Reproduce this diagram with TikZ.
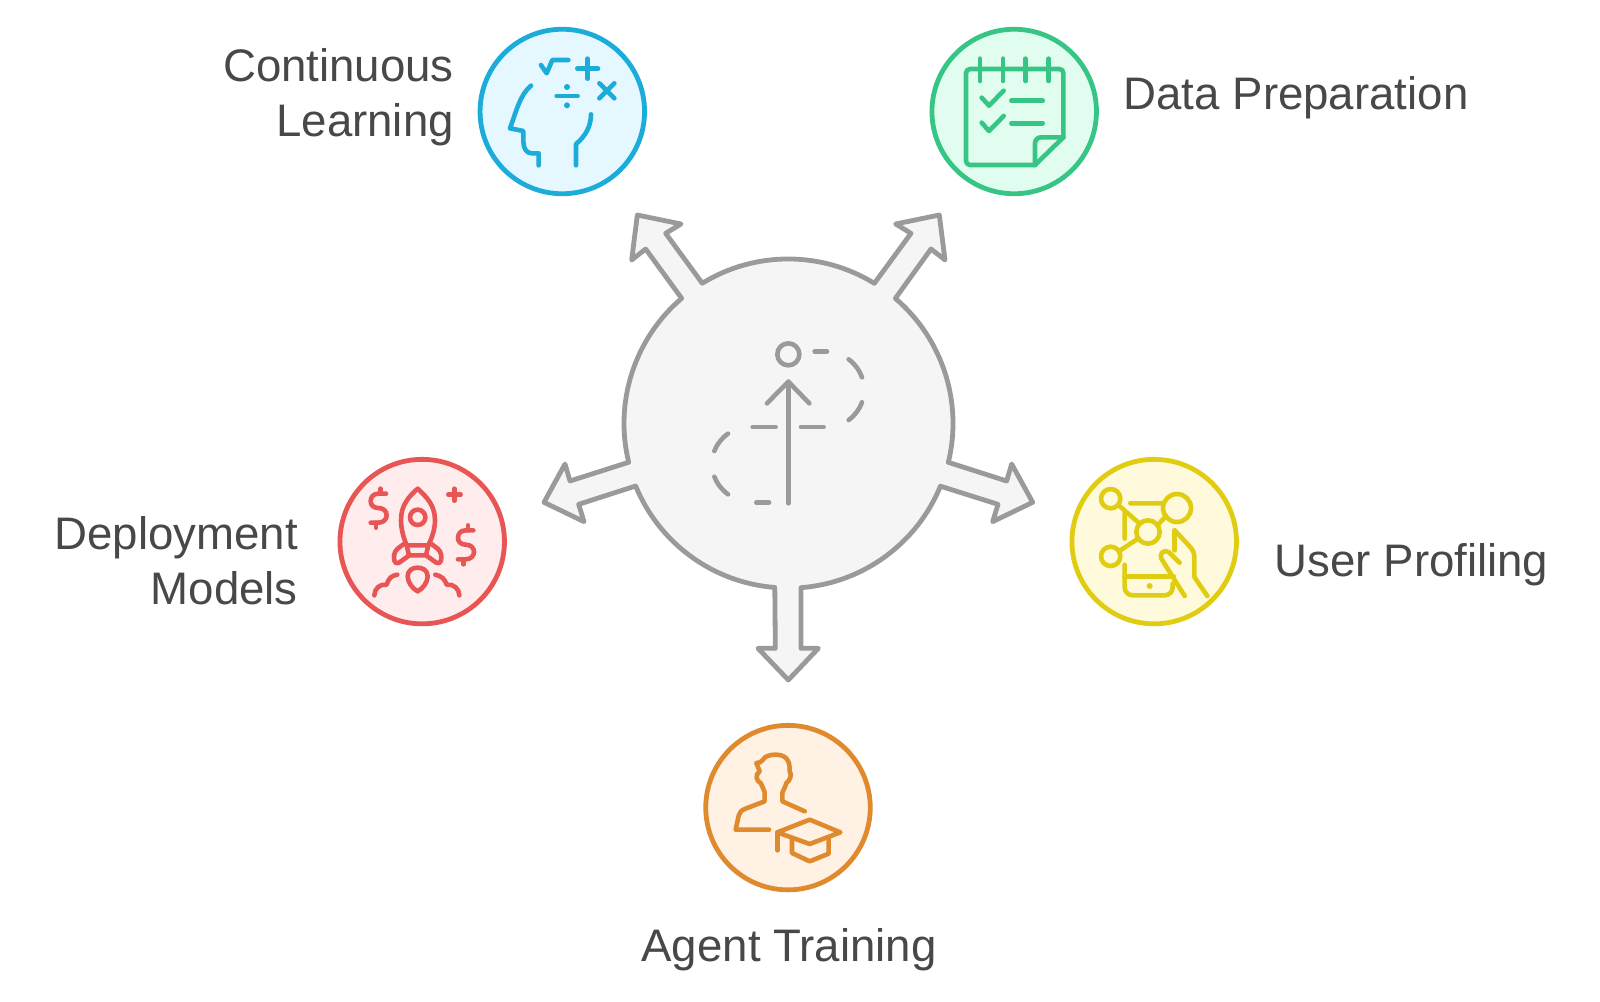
\documentclass[tikz,border=0pt]{standalone}
\usepackage{fontspec}
\setmainfont{Liberation Sans}
\definecolor{txt}{HTML}{484848}
\definecolor{gs}{HTML}{9A9A9A}\definecolor{gf}{HTML}{F5F5F5}
\definecolor{bs}{HTML}{1BACD9}\definecolor{bf}{HTML}{E6F8FF}
\definecolor{ns}{HTML}{37C585}\definecolor{nf}{HTML}{E1FDF0}
\definecolor{rs}{HTML}{E85555}\definecolor{rf}{HTML}{FFECEC}
\definecolor{ys}{HTML}{E0CC10}\definecolor{yf}{HTML}{FFFADB}
\definecolor{os}{HTML}{E08A2E}\definecolor{of}{HTML}{FFF1E4}
\tikzset{
  disc/.style={circle,draw=#1,line width=4.8pt,minimum size=164.5pt,inner sep=0pt},
  ico/.style={line width=4.6pt,line cap=round,line join=round},
  lab/.style={text=txt,font=\fontsize{45.6}{55}\selectfont,inner sep=0pt},
}
\begin{document}
\begin{tikzpicture}[x=1pt,y=1pt,yscale=-1]
\useasboundingbox (0,0) rectangle (1600,1001);
\fill[white] (0,0) rectangle (1600,1001);

% central hub with five outgoing arrows
\begin{scope}[shift={(520,200)},scale=0.33333]
\path[fill=gf,draw=gs,line width=4.8pt,line join=round]
 (547,250) -- (437,100) -- (483,72) -- (352,45) -- (335,180) -- (377,147) -- (485,295)
 arc[start angle=229.53,end angle=166.3,radius=493]
 -- (150,843) -- (135,792) -- (72,907) -- (192,965) -- (176,913) -- (347,858)
 arc[start angle=157.7,end angle=94.5,radius=493]
 -- (766,1345) -- (714,1345) -- (805,1440) -- (895,1345) -- (843,1345) -- (843,1163)
 arc[start angle=85.6,end angle=22.3,radius=493]
 -- (1434,913) -- (1418,965) -- (1538,907) -- (1475,792) -- (1460,843) -- (1285,787)
 arc[start angle=13.7,end angle=-49.53,radius=493]
 -- (1233,147) -- (1275,180) -- (1258,45) -- (1127,72) -- (1173,100) -- (1063,250)
 arc[start angle=-58.4,end angle=-121.6,radius=493] -- cycle;
\draw[ico,draw=gs] (805,463) circle[radius=33];
\draw[ico,draw=gs] (805,545) -- (805,910);
\draw[ico,draw=gs] (741,610) -- (805,545) -- (868,610);
\draw[ico,draw=gs] (698,681) -- (767,681) (843,681) -- (911,681) (884,454) -- (921,454) (709,908) -- (747,908);
\draw[ico,draw=gs] (986,478) .. controls (1005,492) and (1018,510) .. (1026,532);
\draw[ico,draw=gs] (1026,607) .. controls (1018,628) and (1005,646) .. (986,660);
\draw[ico,draw=gs] (624,701) .. controls (605,715) and (591,732) .. (583,753);
\draw[ico,draw=gs] (583,830) .. controls (591,851) and (605,869) .. (624,883);
\end{scope}

% discs
\node[disc=bs,fill=bf] (learn) at (562.3,111.5) {};
\node[disc=ns,fill=nf] (data) at (1014.2,111.5) {};
\node[disc=rs,fill=rf] (deploy) at (422.2,541.6) {};
\node[disc=ys,fill=yf] (user) at (1154.2,541.6) {};
\node[disc=os,fill=of] (agent) at (788,807.6) {};

% head icon
\begin{scope}[shift={(460,20)},scale=0.33333,ico,draw=bs]
\draw (243,135) -- (260,160) -- (277,120) -- (325,120);
\draw (352,146) -- (414,146) (383,116) -- (383,176);
\draw (418,235) -- (463,190) (418,190) -- (463,235);
\draw (290,228) -- (353,228);
\fill[bs] (321,201) circle[radius=9] (321,256) circle[radius=9];
\draw (213,197) .. controls (180,225) and (170,270) .. (150,325) -- (190,333) -- (190,365) .. controls (190,385) and (200,400) .. (215,400) -- (236,400) -- (236,436);
\draw (393,283) .. controls (393,320) and (375,350) .. (348,372) -- (348,436);
\end{scope}

% checklist icon
\begin{scope}[shift={(905,20)},scale=0.33333,ico,draw=ns]
\draw[rounded corners=4pt] (390,435) -- (183,435) -- (183,147) -- (475,147) -- (475,352);
\draw (475,352) -- (390,435);
\draw[rounded corners=6pt] (475,352) -- (390,352) -- (390,435);
\draw (225,116) -- (225,183) (294,116) -- (294,183) (362,116) -- (362,183) (431,116) -- (431,183);
\draw (230,233) -- (252,257) -- (296,212) (230,308) -- (252,333) -- (296,288);
\draw (319,242) -- (413,242) (319,310) -- (413,310);
\end{scope}

% rocket icon
\begin{scope}[shift={(325,442)},scale=0.33333,ico,draw=rs]
\draw (278,140) .. controls (250,165) and (228,190) .. (228,235) .. controls (228,260) and (235,285) .. (245,310) -- (310,310) .. controls (322,285) and (330,260) .. (330,235) .. controls (330,190) and (305,165) .. (278,140);
\draw (245,310) -- (252,340) -- (303,340) -- (310,310);
\draw (278,226) circle[radius=23];
\draw (238,305) -- (218,320) .. controls (206,330) and (206,345) .. (208,355) .. controls (210,366) and (220,365) .. (228,358) -- (250,342);
\draw (318,305) -- (338,320) .. controls (350,330) and (350,345) .. (348,355) .. controls (346,366) and (336,365) .. (328,358) -- (306,342);
\draw (278,448) .. controls (262,440) and (248,420) .. (248,403) .. controls (248,385) and (263,377) .. (278,377) .. controls (293,377) and (308,385) .. (308,403) .. controls (308,420) and (294,440) .. (278,448);
\draw (148,460) .. controls (148,440) and (165,425) .. (185,428) .. controls (190,410) and (200,400) .. (217,398);
\draw (403,460) .. controls (403,440) and (385,425) .. (365,428) .. controls (360,412) and (350,402) .. (331,398);
\foreach \dx/\dy in {0/0,262/110}{
\begin{scope}[shift={(\dx,\dy)}]
\draw (183,155) -- (160,155) .. controls (145,155) and (137,165) .. (137,178) .. controls (137,190) and (147,198) .. (160,198) .. controls (175,198) and (185,207) .. (185,220) .. controls (185,232) and (175,242) .. (160,242) -- (137,242);
\draw (167,140) -- (167,155) (153,242) -- (153,257);
\end{scope}}
\draw (370,158) -- (407,158) (388,140) -- (388,176);
\end{scope}

% network and phone icon
\begin{scope}[shift={(1042,442)},scale=0.33333,ico,draw=ys]
\draw (206,170) circle[radius=29] (405,198) circle[radius=42] (318,270) circle[radius=35] (206,343) circle[radius=29];
\draw (230,190) -- (293,245) (265,184) -- (362,184) (248,213) -- (248,290) (232,327) -- (288,290) (348,248) -- (372,222);
\draw[rounded corners=8pt] (248,368) -- (248,460) -- (392,460) -- (392,425);
\draw (248,403) -- (395,403);
\draw (398,265) -- (398,325);
\draw (398,265) -- (440,310) .. controls (452,322) and (457,332) .. (457,345) -- (457,405) -- (496,462);
\draw (413,362) -- (380,330) .. controls (368,320) and (350,335) .. (358,350) -- (428,462);
\fill[ys] (323,432) circle[radius=9];
\end{scope}

% trainee icon
\begin{scope}[shift={(683,703)},scale=0.33333,ico,draw=os]
\draw (258,380) -- (158,380) -- (167,338) .. controls (170,328) and (175,322) .. (185,318) -- (245,295) -- (245,268) .. controls (240,255) and (237,248) .. (233,240) .. controls (220,235) and (215,215) .. (230,205) -- (220,180) .. controls (228,180) and (235,178) .. (240,170) .. controls (245,160) and (260,155) .. (277,155) .. controls (305,155) and (322,168) .. (320,205) .. controls (328,215) and (320,235) .. (310,240) .. controls (308,250) and (300,262) .. (298,270) -- (298,295) -- (365,325);
\draw (283,388) -- (380,350) -- (472,388) -- (380,423) -- cycle;
\draw (283,442) -- (283,388);
\draw (327,408) -- (327,450) -- (380,475) -- (437,452) -- (437,408);
\end{scope}

% labels
\node[lab,align=right,anchor=east] (tlearn) at (454,97) {Continuous\\Learning};
\node[lab,anchor=base west] (tdata) at (1123.5,109.5) {Data Preparation};
\node[lab,anchor=base west] (tuser) at (1274.5,576.5) {User Profiling};
\node[lab,align=right,anchor=east] (tdeploy) at (298,561) {Deployment\\Models};
\node[lab,anchor=base] (tagent) at (789,961) {Agent Training};
\end{tikzpicture}
\end{document}
